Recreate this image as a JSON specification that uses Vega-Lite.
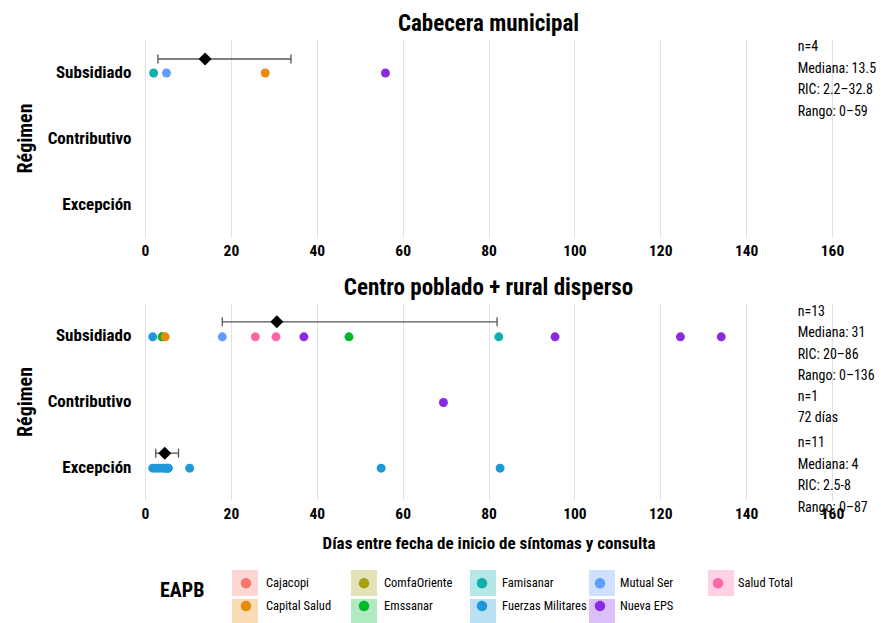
{
  "$schema": "https://vega.github.io/schema/vega-lite/v6.json",
  "background": "white",
  "padding": {"left": 15, "top": 13, "right": 0, "bottom": 0},
  "spacing": 18,
  "datasets": {
    "points": [
      {"panel": "Cabecera municipal", "regimen": "Subsidiado", "eapb": "Famisanar", "dias": 2},
      {"panel": "Cabecera municipal", "regimen": "Subsidiado", "eapb": "Mutual Ser", "dias": 5},
      {"panel": "Cabecera municipal", "regimen": "Subsidiado", "eapb": "Capital Salud", "dias": 28},
      {"panel": "Cabecera municipal", "regimen": "Subsidiado", "eapb": "Nueva EPS", "dias": 56},
      {"panel": "Centro poblado + rural disperso", "regimen": "Subsidiado", "eapb": "Fuerzas Militares", "dias": 1.8},
      {"panel": "Centro poblado + rural disperso", "regimen": "Subsidiado", "eapb": "ComfaOriente", "dias": 4},
      {"panel": "Centro poblado + rural disperso", "regimen": "Subsidiado", "eapb": "Emssanar", "dias": 4},
      {"panel": "Centro poblado + rural disperso", "regimen": "Subsidiado", "eapb": "Capital Salud", "dias": 4.7},
      {"panel": "Centro poblado + rural disperso", "regimen": "Subsidiado", "eapb": "Mutual Ser", "dias": 18},
      {"panel": "Centro poblado + rural disperso", "regimen": "Subsidiado", "eapb": "Salud Total", "dias": 25.7},
      {"panel": "Centro poblado + rural disperso", "regimen": "Subsidiado", "eapb": "Salud Total", "dias": 30.5},
      {"panel": "Centro poblado + rural disperso", "regimen": "Subsidiado", "eapb": "Nueva EPS", "dias": 37},
      {"panel": "Centro poblado + rural disperso", "regimen": "Subsidiado", "eapb": "Emssanar", "dias": 47.5},
      {"panel": "Centro poblado + rural disperso", "regimen": "Subsidiado", "eapb": "Famisanar", "dias": 82.4},
      {"panel": "Centro poblado + rural disperso", "regimen": "Subsidiado", "eapb": "Nueva EPS", "dias": 95.5},
      {"panel": "Centro poblado + rural disperso", "regimen": "Subsidiado", "eapb": "Nueva EPS", "dias": 124.7},
      {"panel": "Centro poblado + rural disperso", "regimen": "Subsidiado", "eapb": "Nueva EPS", "dias": 134.2},
      {"panel": "Centro poblado + rural disperso", "regimen": "Contributivo", "eapb": "Nueva EPS", "dias": 69.5},
      {"panel": "Centro poblado + rural disperso", "regimen": "Excepción", "eapb": "Fuerzas Militares", "dias": 1.8},
      {"panel": "Centro poblado + rural disperso", "regimen": "Excepción", "eapb": "Fuerzas Militares", "dias": 2.5},
      {"panel": "Centro poblado + rural disperso", "regimen": "Excepción", "eapb": "Fuerzas Militares", "dias": 3.2},
      {"panel": "Centro poblado + rural disperso", "regimen": "Excepción", "eapb": "Fuerzas Militares", "dias": 4},
      {"panel": "Centro poblado + rural disperso", "regimen": "Excepción", "eapb": "Fuerzas Militares", "dias": 4.6},
      {"panel": "Centro poblado + rural disperso", "regimen": "Excepción", "eapb": "Fuerzas Militares", "dias": 5},
      {"panel": "Centro poblado + rural disperso", "regimen": "Excepción", "eapb": "Fuerzas Militares", "dias": 5.4},
      {"panel": "Centro poblado + rural disperso", "regimen": "Excepción", "eapb": "Fuerzas Militares", "dias": 5.4},
      {"panel": "Centro poblado + rural disperso", "regimen": "Excepción", "eapb": "Fuerzas Militares", "dias": 10.4},
      {"panel": "Centro poblado + rural disperso", "regimen": "Excepción", "eapb": "Fuerzas Militares", "dias": 55},
      {"panel": "Centro poblado + rural disperso", "regimen": "Excepción", "eapb": "Fuerzas Militares", "dias": 82.7}
    ],
    "stats": [
      {"panel": "Cabecera municipal", "regimen": "Subsidiado", "mediana": 14, "q1": 3, "q3": 34},
      {"panel": "Centro poblado + rural disperso", "regimen": "Subsidiado", "mediana": 30.7, "q1": 18, "q3": 82},
      {"panel": "Centro poblado + rural disperso", "regimen": "Excepción", "mediana": 4.6, "q1": 2.5, "q3": 7.8}
    ],
    "notes": [
      {"panel": "Cabecera municipal", "regimen": "Subsidiado", "nota": "n=4\nMediana: 13.5\nRIC: 2.2–32.8\nRango: 0–59"},
      {"panel": "Centro poblado + rural disperso", "regimen": "Subsidiado", "nota": "n=13\nMediana: 31\nRIC: 20–86\nRango: 0–136"},
      {"panel": "Centro poblado + rural disperso", "regimen": "Contributivo", "nota": "n=1\n72 días"},
      {"panel": "Centro poblado + rural disperso", "regimen": "Excepción", "nota": "n=11\nMediana: 4\nRIC: 2.5-8\nRango: 0–87"}
    ]
  },
  "vconcat": [
    {
      "title": {"text": "Cabecera municipal", "fontSize": 23, "fontWeight": "bold", "offset": 3, "anchor": "middle", "color": "black"},
      "width": 687,
      "height": 198,
      "layer": [
        {
          "data": {"name": "points"},
          "transform": [{"filter": "datum.panel === 'Cabecera municipal'"}],
          "mark": {"type": "square", "opacity": 0},
          "encoding": {
            "x": {"field": "dias", "type": "quantitative", "scale": {"domain": [0, 160], "nice": false}, "axis": {"title": null, "values": [0, 20, 40, 60, 80, 100, 120, 140, 160]}},
            "y": {"field": "regimen", "type": "nominal", "scale": {"type": "point", "padding": 0.5, "domain": ["Subsidiado", "Contributivo", "Excepción"]}, "axis": {"title": "Régimen"}},
            "color": {"field": "eapb", "type": "nominal", "scale": {"domain": ["Cajacopi\u200b", "ComfaOriente\u200b", "Famisanar\u200b", "Mutual Ser\u200b", "Salud Total\u200b", "Capital Salud\u200b", "Emssanar\u200b", "Fuerzas Militares\u200b", "Nueva EPS\u200b"], "range": ["#F8766D", "#A3A012", "#0DAFAF", "#619CFF", "#FF66A8", "#E88A0C", "#00B82A", "#1E98D8", "#8A2BE2"]}, "legend": {"title": null, "legendX": 87, "symbolType": "square", "symbolOpacity": 0.3, "symbolStrokeWidth": 0, "labelExpr": "''", "columnPadding": 86}}
          }
        },
        {
          "data": {"name": "points"},
          "transform": [{"filter": "datum.panel === 'Cabecera municipal'"}],
          "mark": {"type": "circle", "size": 80, "opacity": 1, "yOffset": 1},
          "encoding": {
            "x": {"field": "dias", "type": "quantitative"},
            "y": {"field": "regimen", "type": "nominal"},
            "fill": {"field": "eapb", "type": "nominal", "scale": {"domain": ["Cajacopi", "ComfaOriente", "Famisanar", "Mutual Ser", "Salud Total", "Capital Salud", "Emssanar", "Fuerzas Militares", "Nueva EPS"], "range": ["#F8766D", "#A3A012", "#0DAFAF", "#619CFF", "#FF66A8", "#E88A0C", "#00B82A", "#1E98D8", "#8A2BE2"]}, "legend": {"title": "EAPB", "symbolType": "M0.4,0A0.4,0.4,0,1,1,-0.4,0A0.4,0.4,0,1,1,0.4,0Z", "symbolOpacity": 1, "symbolStrokeWidth": 0}}
          }
        },
        {
          "data": {"name": "stats"},
          "transform": [{"filter": "datum.panel === 'Cabecera municipal'"}],
          "mark": {"type": "rule", "color": "#555555", "strokeWidth": 1.3, "yOffset": -13},
          "encoding": {
            "x": {"field": "q1", "type": "quantitative"},
            "x2": {"field": "q3"},
            "y": {"field": "regimen", "type": "nominal"}
          }
        },
        {
          "data": {"name": "stats"},
          "transform": [{"filter": "datum.panel === 'Cabecera municipal'"}, {"fold": ["q1", "q3"], "as": ["k", "v"]}],
          "mark": {"type": "tick", "orient": "vertical", "color": "#555555", "size": 9, "thickness": 1.3, "yOffset": -13, "opacity": 1},
          "encoding": {
            "x": {"field": "v", "type": "quantitative"},
            "y": {"field": "regimen", "type": "nominal"}
          }
        },
        {
          "data": {"name": "stats"},
          "transform": [{"filter": "datum.panel === 'Cabecera municipal'"}],
          "mark": {"type": "point", "shape": "diamond", "filled": true, "color": "black", "size": 170, "opacity": 1, "yOffset": -13},
          "encoding": {
            "x": {"field": "mediana", "type": "quantitative"},
            "y": {"field": "regimen", "type": "nominal"}
          }
        },
        {
          "data": {"name": "notes"},
          "transform": [{"filter": "datum.panel === 'Cabecera municipal'"}],
          "mark": {"type": "text", "align": "left", "baseline": "middle", "lineBreak": "\n", "fontSize": 14, "lineHeight": 21.5, "color": "black", "yOffset": -25},
          "encoding": {
            "x": {"datum": 152},
            "y": {"field": "regimen", "type": "nominal"},
            "text": {"field": "nota"}
          }
        }
      ]
    },
    {
      "title": {"text": "Centro poblado + rural disperso", "fontSize": 23, "fontWeight": "bold", "offset": 3, "anchor": "middle", "color": "black"},
      "width": 687,
      "height": 197,
      "layer": [
        {
          "data": {"name": "points"},
          "transform": [{"filter": "datum.panel === 'Centro poblado + rural disperso'"}],
          "mark": {"type": "circle", "size": 80, "opacity": 1, "yOffset": 1},
          "encoding": {
            "x": {"field": "dias", "type": "quantitative", "scale": {"domain": [0, 160], "nice": false}, "axis": {"title": "Días entre fecha de inicio de síntomas y consulta", "values": [0, 20, 40, 60, 80, 100, 120, 140, 160]}},
            "y": {"field": "regimen", "type": "nominal", "scale": {"type": "point", "padding": 0.5, "domain": ["Subsidiado", "Contributivo", "Excepción"]}, "axis": {"title": "Régimen"}},
            "fill": {"field": "eapb", "type": "nominal", "scale": {"domain": ["Cajacopi", "ComfaOriente", "Famisanar", "Mutual Ser", "Salud Total", "Capital Salud", "Emssanar", "Fuerzas Militares", "Nueva EPS"], "range": ["#F8766D", "#A3A012", "#0DAFAF", "#619CFF", "#FF66A8", "#E88A0C", "#00B82A", "#1E98D8", "#8A2BE2"]}, "legend": {"title": "EAPB", "symbolType": "M0.4,0A0.4,0.4,0,1,1,-0.4,0A0.4,0.4,0,1,1,0.4,0Z", "symbolOpacity": 1, "symbolStrokeWidth": 0}}
          }
        },
        {
          "data": {"name": "stats"},
          "transform": [{"filter": "datum.panel === 'Centro poblado + rural disperso'"}],
          "mark": {"type": "rule", "color": "#555555", "strokeWidth": 1.3, "yOffset": -14},
          "encoding": {
            "x": {"field": "q1", "type": "quantitative"},
            "x2": {"field": "q3"},
            "y": {"field": "regimen", "type": "nominal"}
          }
        },
        {
          "data": {"name": "stats"},
          "transform": [{"filter": "datum.panel === 'Centro poblado + rural disperso'"}, {"fold": ["q1", "q3"], "as": ["k", "v"]}],
          "mark": {"type": "tick", "orient": "vertical", "color": "#555555", "size": 9, "thickness": 1.3, "yOffset": -14, "opacity": 1},
          "encoding": {
            "x": {"field": "v", "type": "quantitative"},
            "y": {"field": "regimen", "type": "nominal"}
          }
        },
        {
          "data": {"name": "stats"},
          "transform": [{"filter": "datum.panel === 'Centro poblado + rural disperso'"}],
          "mark": {"type": "point", "shape": "diamond", "filled": true, "color": "black", "size": 170, "opacity": 1, "yOffset": -14},
          "encoding": {
            "x": {"field": "mediana", "type": "quantitative"},
            "y": {"field": "regimen", "type": "nominal"}
          }
        },
        {
          "data": {"name": "notes"},
          "transform": [{"filter": "datum.panel === 'Centro poblado + rural disperso' && indexof(datum.nota, 'Mediana') >= 0"}],
          "mark": {"type": "text", "align": "left", "baseline": "middle", "lineBreak": "\n", "fontSize": 14, "lineHeight": 21.5, "color": "black", "yOffset": -24},
          "encoding": {
            "x": {"datum": 152},
            "y": {"field": "regimen", "type": "nominal"},
            "text": {"field": "nota"}
          }
        },
        {
          "data": {"name": "notes"},
          "transform": [{"filter": "datum.panel === 'Centro poblado + rural disperso' && indexof(datum.nota, 'Mediana') < 0"}],
          "mark": {"type": "text", "align": "left", "baseline": "middle", "lineBreak": "\n", "fontSize": 14, "lineHeight": 21.5, "color": "black", "yOffset": -5},
          "encoding": {
            "x": {"datum": 152},
            "y": {"field": "regimen", "type": "nominal"},
            "text": {"field": "nota"}
          }
        }
      ]
    }
  ],
  "resolve": {"scale": {"color": "shared", "fill": "shared"}},
  "config": {
    "font": "'Liberation Sans Narrow', 'Roboto Condensed', Roboto, sans-serif",
    "view": {"stroke": null},
    "axis": {
      "domain": false,
      "ticks": false,
      "grid": true,
      "gridColor": "#E0E0E0",
      "gridWidth": 1,
      "labelColor": "black",
      "labelFontWeight": "bold",
      "titleColor": "black",
      "titleFontWeight": "bold"
    },
    "axisX": {"labelFontSize": 15.5, "labelPadding": 6, "labelFlush": false, "titleFontSize": 17, "titlePadding": 14},
    "axisY": {"grid": false, "labelFontSize": 17, "labelPadding": 14, "titleFontSize": 20, "titlePadding": 12},
    "legend": {
      "orient": "none",
      "legendX": 15,
      "legendY": 531,
      "direction": "horizontal",
      "columns": 5,
      "gridAlign": "all",
      "titleOrient": "left",
      "titleAnchor": "middle",
      "titleFontSize": 20,
      "titleFontWeight": "bold",
      "titleColor": "black",
      "titlePadding": 28,
      "titleBaseline": "middle",
      "labelFontSize": 12.5,
      "labelColor": "black",
      "labelOffset": 7,
      "symbolSize": 676,
      "columnPadding": 0,
      "rowPadding": 3
    }
  }
}
